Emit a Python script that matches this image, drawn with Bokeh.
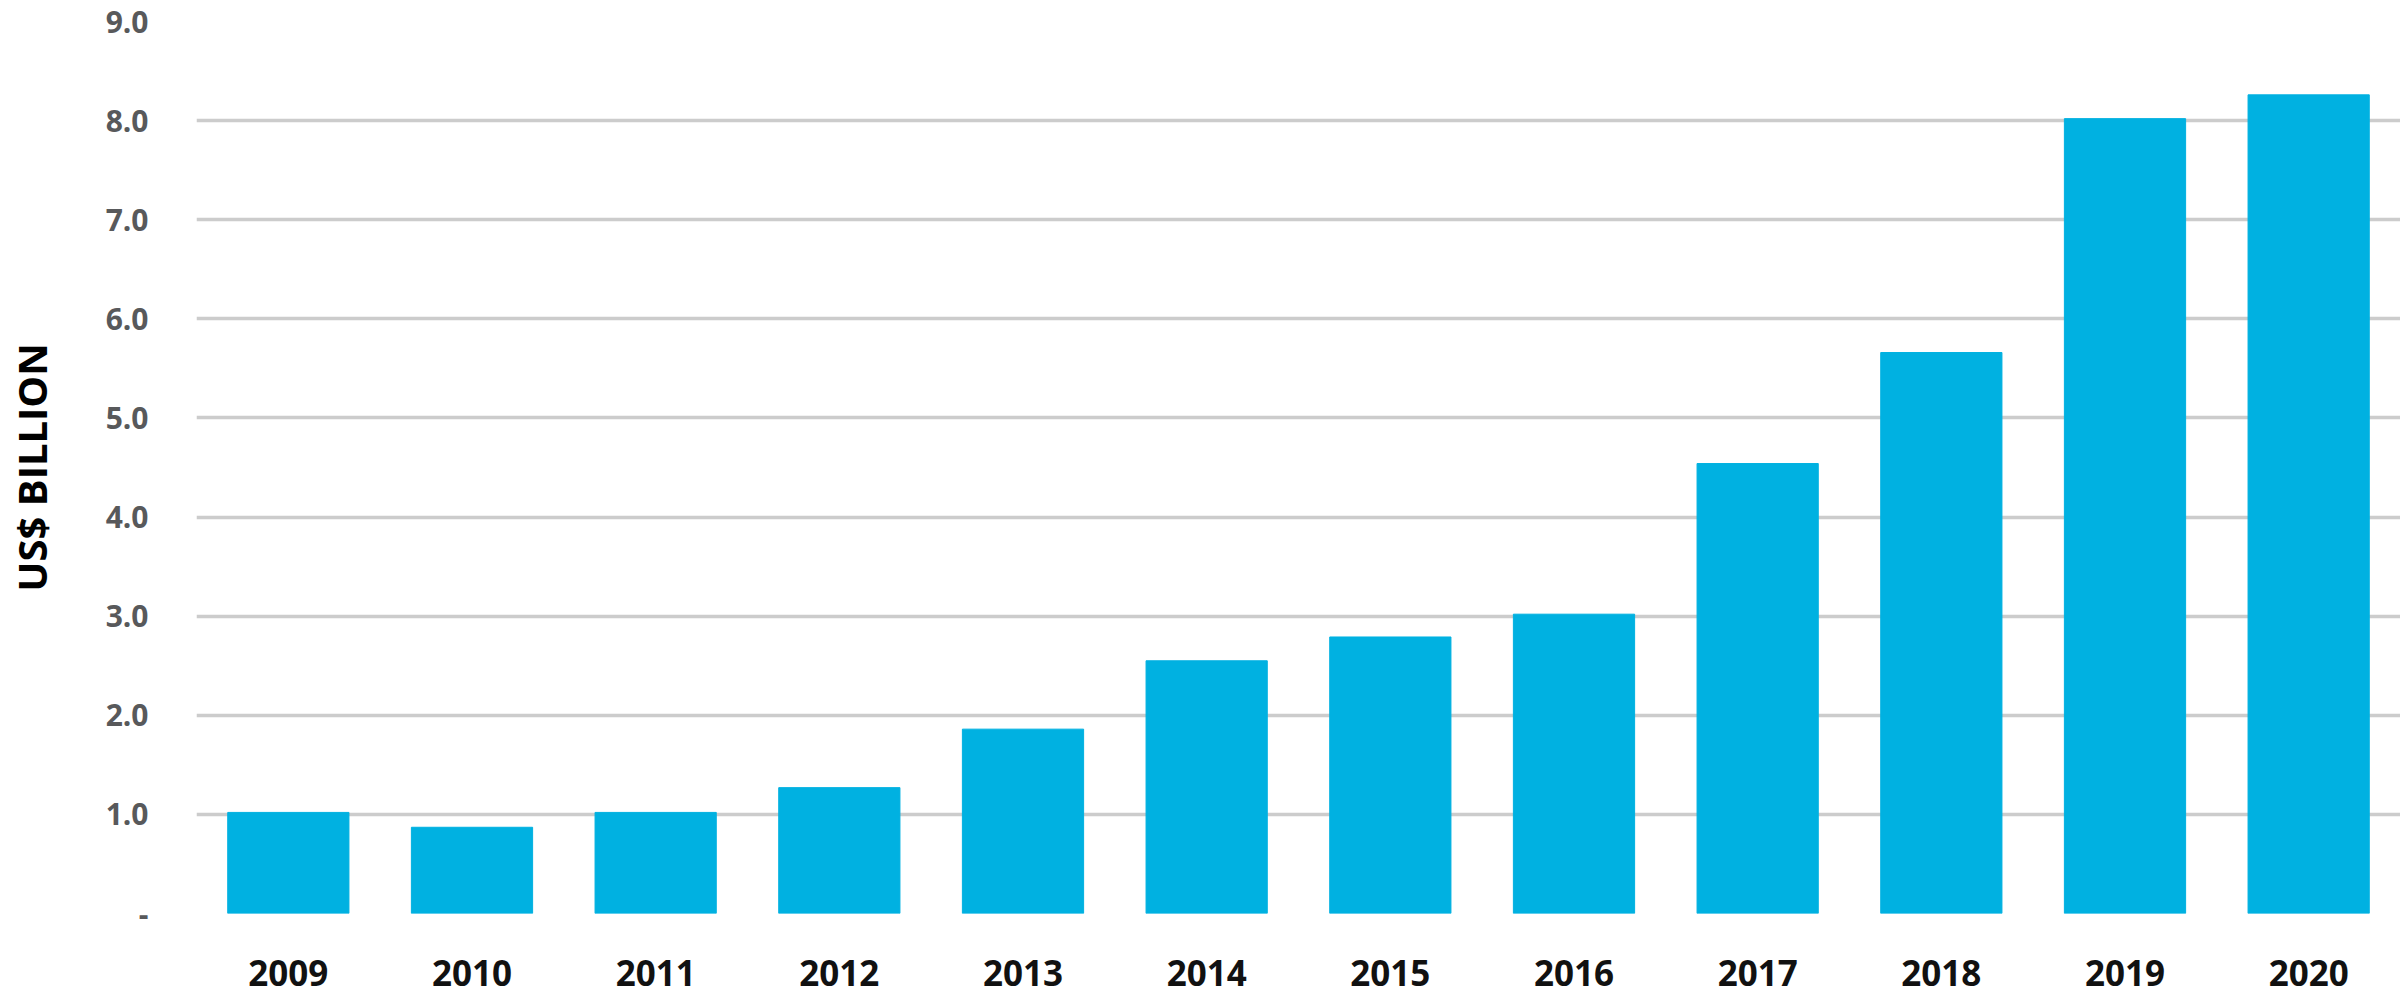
from bokeh.plotting import figure
from bokeh.models import FixedTicker, CustomJSTickFormatter
from bokeh.embed import file_html
from bokeh.resources import INLINE

years = ["2009", "2010", "2011", "2012", "2013", "2014", "2015", "2016", "2017", "2018", "2019", "2020"]
values = [1.02, 0.87, 1.02, 1.27, 1.86, 2.55, 2.79, 3.02, 4.54, 5.66, 8.02, 8.26]
y_ticks = [0, 1, 2, 3, 4, 5, 6, 7, 8, 9]
y_title = "US$ BILLION"

FONT = "Open Sans"

p = figure(x_range=years, y_range=(0, 9), width=2400, height=996,
           output_backend="svg", toolbar_location=None,
           min_border_left=196, min_border_right=0, min_border_top=21, min_border_bottom=83)
p.outline_line_color = None
p.background_fill_color = "white"

p.vbar(x=years, top=values, width=0.66, color="#00B1E1")

p.xgrid.grid_line_color = None
p.ygrid.grid_line_color = "#CCCCCC"
p.ygrid.grid_line_width = 3.5
p.ygrid.ticker = FixedTicker(ticks=y_ticks)

p.yaxis.ticker = FixedTicker(ticks=y_ticks)
p.yaxis.formatter = CustomJSTickFormatter(code="return tick == 0 ? '-' : tick.toFixed(1);")
p.yaxis.axis_line_color = None
p.yaxis.major_tick_line_color = None
p.yaxis.minor_tick_line_color = None
p.yaxis.major_tick_out = 0
p.yaxis.major_tick_in = 0
p.yaxis.major_label_standoff = 48
p.yaxis.major_label_text_font = FONT
p.yaxis.major_label_text_font_style = "bold"
p.yaxis.major_label_text_font_size = "30px"
p.yaxis.major_label_text_color = "#58595B"
p.yaxis.axis_label = y_title
p.yaxis.axis_label_text_font = FONT
p.yaxis.axis_label_text_font_style = "bold"
p.yaxis.axis_label_text_font_size = "40px"
p.yaxis.axis_label_text_color = "#000000"
p.yaxis.axis_label_standoff = 44

p.xaxis.axis_line_color = None
p.xaxis.major_tick_line_color = None
p.xaxis.minor_tick_line_color = None
p.xaxis.major_tick_out = 0
p.xaxis.major_tick_in = 0
p.xaxis.major_label_standoff = 46
p.xaxis.major_label_text_line_height = 0.7
p.xaxis.major_label_text_font = FONT
p.xaxis.major_label_text_font_style = "bold"
p.xaxis.major_label_text_font_size = "35px"
p.xaxis.major_label_text_color = "#111111"

open("out.html", "w").write(file_html(p, INLINE))
